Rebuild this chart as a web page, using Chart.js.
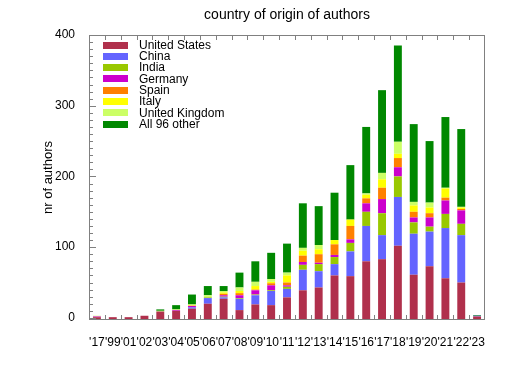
<!DOCTYPE html>
<html>
<head>
<meta charset="utf-8">
<script src="https://cdn.jsdelivr.net/npm/chart.js@4"></script>
<style>
  html, body { margin: 0; padding: 0; background: #fff; }
  canvas { display: block; }
</style>
</head>
<body>
<canvas id="chart" width="512" height="378"></canvas>
<script>
// year labels as printed on the axis
const years = ["'17", "'99", "'01", "'02", "'03", "'04", "'05", "'06", "'07", "'08", "'09", "'10", "'11",
               "'12", "'13", "'14", "'15", "'16", "'17", "'18", "'19", "'20", "'21", "'22", "'23"];

const countries = ['United States', 'China', 'India', 'Germany', 'Spain', 'Italy', 'United Kingdom', 'All 96 other'];
const countryColors = ['#b0304c', '#6464ff', '#99c800', '#cc00cc', '#ff8000', '#ffff00', '#ccff66', '#008800'];

// authors per country per year
const unitedStates = [1, 1, 1, 3, 9, 10, 13, 20, 27, 11, 19, 18, 29, 39, 43, 60, 59, 80, 83, 102, 61, 73, 56, 50, 2];
const china        = [0, 0, 0, 0, 0, 0, 2, 8, 2, 16, 13, 20, 12, 29, 23, 16, 35, 50, 34, 69, 58, 49, 71, 67, 1];
const india        = [0, 0, 0, 0, 0, 0, 0, 1, 1, 1, 1, 1, 3, 7, 10, 10, 12, 20, 31, 29, 16, 7, 20, 16, 0];
const germany      = [1, 0, 0, 0, 0, 1, 2, 0, 2, 4, 6, 7, 2, 4, 2, 3, 5, 12, 20, 13, 7, 13, 19, 19, 0];
const spain        = [0, 0, 0, 0, 0, 0, 0, 0, 2, 3, 1, 3, 4, 9, 12, 15, 19, 7, 16, 13, 8, 6, 4, 2, 0];
const italy        = [0, 0, 0, 0, 0, 0, 1, 0, 2, 3, 5, 2, 10, 7, 7, 6, 9, 5, 12, 6, 9, 8, 13, 2, 0];
const unitedKingdom = [1, 0, 0, 0, 1, 1, 1, 3, 2, 5, 6, 4, 4, 4, 6, 0, 0, 2, 9, 17, 5, 7, 1, 1, 0];
const allOther     = [0, 0, 0, 0, 2, 6, 14, 13, 7, 21, 29, 37, 41, 63, 55, 67, 77, 94, 117, 136, 110, 87, 100, 110, 1];

const yTicks = [0, 100, 200, 300, 400];

const series = [unitedStates, china, india, germany, spain, italy, unitedKingdom, allOther];
const FONT = 'Liberation Sans, Arial, Helvetica, sans-serif';
const FRAME = '#808080';

// box round the plot, inward ticks, and the legend in the top left corner
const framePlugin = {
    id: 'frame',
    afterDraw(chart) {
        const {ctx, chartArea: a, scales: {x, y}} = chart;
        ctx.save();
        ctx.strokeStyle = FRAME;
        ctx.lineWidth = 1;
        ctx.strokeRect(a.left + 0.5, a.top + 0.5, a.right - a.left - 1, a.bottom - a.top - 1);

        ctx.beginPath();
        for (let v = 0; v <= 400; v += 10) {
            const py = Math.round(y.getPixelForValue(v)) + 0.5;
            const len = v % 100 === 0 ? 7 : 4;
            ctx.moveTo(a.left, py);
            ctx.lineTo(a.left + len, py);
        }
        for (let i = 0; i < years.length - 1; i++) {
            const px = Math.round((x.getPixelForValue(i) + x.getPixelForValue(i + 1)) / 2) + 0.5;
            ctx.moveTo(px, a.top);
            ctx.lineTo(px, a.top + 5);
            ctx.moveTo(px, a.bottom);
            ctx.lineTo(px, a.bottom - 5);
        }
        ctx.stroke();

        // legend
        ctx.font = '12px ' + FONT;
        ctx.textBaseline = 'middle';
        ctx.textAlign = 'left';
        chart.data.datasets.forEach((ds, i) => {
            const cy = 45 + i * 11.3;
            ctx.fillStyle = ds.backgroundColor;
            ctx.fillRect(103, Math.round(cy - 3.5), 25, 7);
            ctx.fillStyle = '#000';
            ctx.fillText(ds.label, 139, cy + 0.5);
        });
        ctx.restore();
    }
};

new Chart(document.getElementById('chart'), {
    type: 'bar',
    data: {
        labels: years,
        datasets: series.map((values, i) => ({
            label: countries[i],
            data: values,
            backgroundColor: countryColors[i],
            borderWidth: 0,
            barPercentage: 0.5,
            categoryPercentage: 1,
            ...(i === 0 ? {base: -3} : {})
        }))
    },
    options: {
        responsive: false,
        animation: false,
        events: [],
        layout: { padding: { left: 0, right: 27, top: 0, bottom: 0 } },
        plugins: {
            legend: { display: false },
            tooltip: { enabled: false },
            title: {
                display: true,
                fullSize: false,
                text: 'country of origin of authors',
                color: '#000',
                font: { family: FONT, size: 14, weight: 'normal', lineHeight: 1 },
                padding: { top: 8, bottom: 13 }
            }
        },
        scales: {
            x: {
                stacked: true,
                grid: { display: false },
                border: { display: false },
                ticks: {
                    color: '#000',
                    font: { family: FONT, size: 12 },
                    maxRotation: 0,
                    autoSkip: false,
                    padding: 7
                },
                afterFit(scale) { scale.height = 58; }
            },
            y: {
                stacked: true,
                min: -3,
                max: 400,
                grid: { display: false },
                border: { display: false },
                ticks: {
                    color: '#000',
                    font: { family: FONT, size: 12 },
                    padding: 6
                },
                afterBuildTicks(scale) { scale.ticks = yTicks.map(v => ({ value: v })); },
                title: {
                    display: true,
                    text: 'nr of authors',
                    color: '#000',
                    font: { family: FONT, size: 13 },
                    padding: { top: 41, bottom: 0 }
                },
                afterFit(scale) { scale.width = 89; }
            }
        }
    },
    plugins: [framePlugin]
});
</script>
</body>
</html>
